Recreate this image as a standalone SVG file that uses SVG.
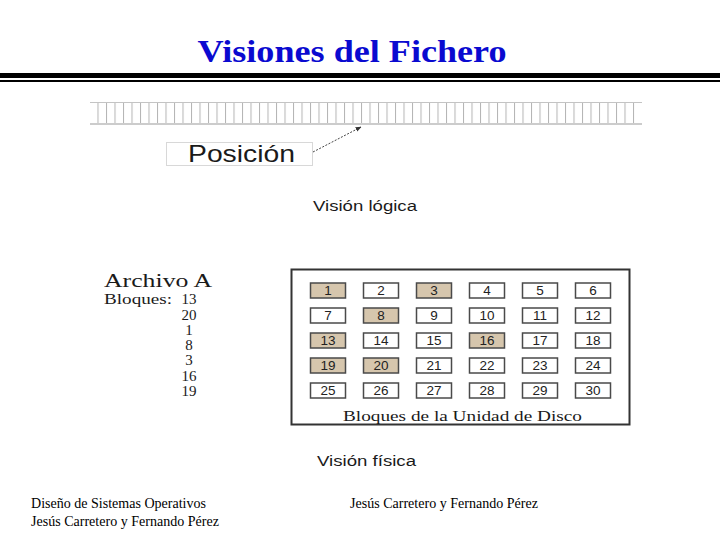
<svg xmlns="http://www.w3.org/2000/svg" width="720" height="540" viewBox="0 0 720 540">
<style>
.title{font-family:"Liberation Serif","Times New Roman",serif;font-weight:bold;font-size:32px;fill:#0a0ad0}
.sans{font-family:"Liberation Sans",Arial,sans-serif;fill:#1a1a1a}
.serif{font-family:"Liberation Serif","Times New Roman",serif;fill:#1a1a1a}
.cell{stroke:#4a4a4a;stroke-width:1.5;fill:#fff}
.cell.on{fill:#d6c6ad}
.num{font-family:"Liberation Sans",Arial,sans-serif;font-size:13.5px;fill:#222;text-anchor:middle}
.foot{font-family:"Liberation Serif","Times New Roman",serif;font-size:14px;fill:#000}
</style>
<defs>
<pattern id="ticks" patternUnits="userSpaceOnUse" x="97.5" y="103" width="8.5" height="21">
<line x1="0.5" y1="0" x2="0.5" y2="21" stroke="#b4b4b4" stroke-width="1"/>
</pattern>
<marker id="ah" viewBox="0 0 10 10" refX="9" refY="5" markerWidth="6" markerHeight="6" orient="auto">
<path d="M0,1 L10,5 L0,9 z" fill="#333"/>
</marker>
</defs>
<rect width="720" height="540" fill="#fff"/>
<g id="title">
<text class="title" x="352" y="62" text-anchor="middle" textLength="309" lengthAdjust="spacingAndGlyphs">Visiones del Fichero</text>
<rect x="0" y="73" width="720" height="5" fill="#000"/>
<rect x="0" y="80" width="720" height="2" fill="#000"/>
</g>
<g id="ruler">
<line x1="90" y1="102.5" x2="642" y2="102.5" stroke="#c4c4c4" stroke-width="1"/>
<rect x="97" y="103" width="544" height="21" fill="url(#ticks)"/>
<line x1="90" y1="124" x2="642" y2="124" stroke="#cccccc" stroke-width="2"/>
</g>
<g id="posicion">
<rect x="166.5" y="142.5" width="146" height="23" fill="#fff" stroke="#d8d8d8" stroke-width="1"/>
<text class="sans" x="188" y="162" font-size="24" textLength="107" lengthAdjust="spacingAndGlyphs">Posición</text>
</g>
<g id="connectors">
<line x1="313" y1="152" x2="361" y2="127" stroke="#444" stroke-width="1" stroke-dasharray="2,1.5" marker-end="url(#ah)"/>
</g>
<g id="vision-logica">
<text class="sans" x="313" y="211" font-size="14" textLength="104" lengthAdjust="spacingAndGlyphs">Visión lógica</text>
</g>
<g id="archivo">
<text class="serif" x="104" y="287" font-size="19" textLength="108" lengthAdjust="spacingAndGlyphs">Archivo A</text>
<text class="serif" x="104" y="304" font-size="15" textLength="68" lengthAdjust="spacingAndGlyphs">Bloques:</text>
<g class="serif" font-size="15" text-anchor="middle">
<text x="189" y="304">13</text>
<text x="189" y="319.5">20</text>
<text x="189" y="335">1</text>
<text x="189" y="350">8</text>
<text x="189" y="365">3</text>
<text x="189" y="381">16</text>
<text x="189" y="396">19</text>
</g>
</g>
<g id="disco">
<rect x="291.5" y="269.5" width="338" height="155" fill="#fff" stroke="#333" stroke-width="2"/>
<g id="row1">
<rect class="cell on" x="310.5" y="283" width="35" height="15"/><text class="num" x="328" y="295">1</text>
<rect class="cell" x="363.5" y="283" width="35" height="15"/><text class="num" x="381" y="295">2</text>
<rect class="cell on" x="416.5" y="283" width="35" height="15"/><text class="num" x="434" y="295">3</text>
<rect class="cell" x="469.5" y="283" width="35" height="15"/><text class="num" x="487" y="295">4</text>
<rect class="cell" x="522.5" y="283" width="35" height="15"/><text class="num" x="540" y="295">5</text>
<rect class="cell" x="575.5" y="283" width="35" height="15"/><text class="num" x="593" y="295">6</text>
</g>
<g id="row2">
<rect class="cell" x="310.5" y="308" width="35" height="15"/><text class="num" x="328" y="320">7</text>
<rect class="cell on" x="363.5" y="308" width="35" height="15"/><text class="num" x="381" y="320">8</text>
<rect class="cell" x="416.5" y="308" width="35" height="15"/><text class="num" x="434" y="320">9</text>
<rect class="cell" x="469.5" y="308" width="35" height="15"/><text class="num" x="487" y="320">10</text>
<rect class="cell" x="522.5" y="308" width="35" height="15"/><text class="num" x="540" y="320">11</text>
<rect class="cell" x="575.5" y="308" width="35" height="15"/><text class="num" x="593" y="320">12</text>
</g>
<g id="row3">
<rect class="cell on" x="310.5" y="333" width="35" height="15"/><text class="num" x="328" y="345">13</text>
<rect class="cell" x="363.5" y="333" width="35" height="15"/><text class="num" x="381" y="345">14</text>
<rect class="cell" x="416.5" y="333" width="35" height="15"/><text class="num" x="434" y="345">15</text>
<rect class="cell on" x="469.5" y="333" width="35" height="15"/><text class="num" x="487" y="345">16</text>
<rect class="cell" x="522.5" y="333" width="35" height="15"/><text class="num" x="540" y="345">17</text>
<rect class="cell" x="575.5" y="333" width="35" height="15"/><text class="num" x="593" y="345">18</text>
</g>
<g id="row4">
<rect class="cell on" x="310.5" y="358" width="35" height="15"/><text class="num" x="328" y="370">19</text>
<rect class="cell on" x="363.5" y="358" width="35" height="15"/><text class="num" x="381" y="370">20</text>
<rect class="cell" x="416.5" y="358" width="35" height="15"/><text class="num" x="434" y="370">21</text>
<rect class="cell" x="469.5" y="358" width="35" height="15"/><text class="num" x="487" y="370">22</text>
<rect class="cell" x="522.5" y="358" width="35" height="15"/><text class="num" x="540" y="370">23</text>
<rect class="cell" x="575.5" y="358" width="35" height="15"/><text class="num" x="593" y="370">24</text>
</g>
<g id="row5">
<rect class="cell" x="310.5" y="383" width="35" height="15"/><text class="num" x="328" y="395">25</text>
<rect class="cell" x="363.5" y="383" width="35" height="15"/><text class="num" x="381" y="395">26</text>
<rect class="cell" x="416.5" y="383" width="35" height="15"/><text class="num" x="434" y="395">27</text>
<rect class="cell" x="469.5" y="383" width="35" height="15"/><text class="num" x="487" y="395">28</text>
<rect class="cell" x="522.5" y="383" width="35" height="15"/><text class="num" x="540" y="395">29</text>
<rect class="cell" x="575.5" y="383" width="35" height="15"/><text class="num" x="593" y="395">30</text>
</g>
<text class="serif" x="343" y="421" font-size="15" textLength="239" lengthAdjust="spacingAndGlyphs">Bloques de la Unidad de Disco</text>
</g>
<g id="vision-fisica">
<text class="sans" x="317" y="466" font-size="14" textLength="99" lengthAdjust="spacingAndGlyphs">Visión física</text>
</g>
<g id="footer">
<text class="foot" x="31" y="508" textLength="175" lengthAdjust="spacingAndGlyphs">Diseño de Sistemas Operativos</text>
<text class="foot" x="31" y="526" textLength="188" lengthAdjust="spacingAndGlyphs">Jesús Carretero y Fernando Pérez</text>
<text class="foot" x="350" y="508" textLength="188" lengthAdjust="spacingAndGlyphs">Jesús Carretero y Fernando Pérez</text>
</g>
</svg>
